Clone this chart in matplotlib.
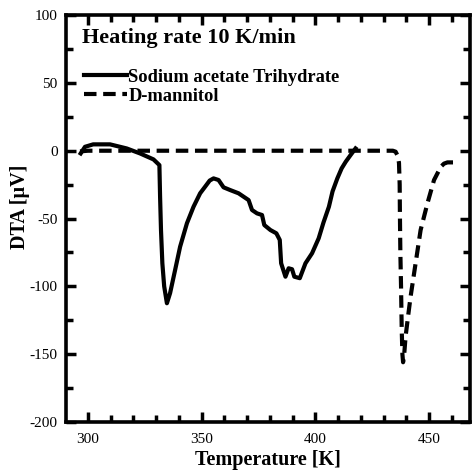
import matplotlib
matplotlib.use("Agg")
import matplotlib.pyplot as plt
from matplotlib.ticker import MultipleLocator

plt.rcParams['font.family'] = ['Liberation Serif', 'DejaVu Serif']
plt.rcParams['axes.unicode_minus'] = False

# Sodium acetate trihydrate (solid)
sodium_T = [296.8, 298.7, 302.3, 309.7, 317.0, 322.9, 328.8, 331.4, 331.7, 332.1,
            332.7, 333.5, 334.7, 336.1, 338.3, 340.5, 343.5, 346.4, 349.3, 351.5,
            353.5, 355.2, 357.4, 359.6, 362.5, 366.2, 370.6, 372.1, 374.3, 376.5,
            377.5, 380.2, 382.8, 384.3, 384.9, 386.8, 388.2, 389.7, 390.7, 393.1,
            395.6, 398.5, 401.4, 403.5, 405.9, 407.5, 409.6, 411.5, 413.3, 415.5,
            417.6]
sodium_D = [-2.0, 2.9, 4.7, 4.7, 1.7, -2.0, -6.4, -10.6, -33.9, -58.5,
            -83.0, -100.0, -112.5, -105.0, -88.0, -70.8, -53.5, -41.3, -31.4, -26.5,
            -22.0, -20.4, -21.6, -27.0, -29.0, -31.4, -36.4, -43.7, -46.2, -47.4,
            -54.8, -58.5, -60.9, -65.8, -83.0, -92.9, -86.7, -87.4, -92.9, -94.0,
            -83.0, -75.6, -64.6, -53.0, -41.3, -30.0, -20.4, -13.0, -8.1, -3.0,
            1.7]

# D-mannitol (dashed)
mann_T = [296.5, 300, 320, 350, 380, 400, 420, 434.0, 435.2, 436.2,
          436.7, 437.0, 437.1, 437.3, 437.6, 437.9, 438.2, 438.5, 439.0, 439.6,
          440.7, 441.8, 444.0, 446.2, 449.2, 452.1, 455.1, 456.5, 458.0, 462.4]
mann_D = [-0.5, 0, 0, 0, 0, 0, 0, 0, -0.7, -4,
          -9, -25, -46, -75, -100, -132, -150, -156, -150, -137,
          -122, -107.6, -83, -58.5, -38.8, -21.6, -11.8, -9.5, -8.6, -8.6]

fig = plt.figure(figsize=(4.74, 4.73), dpi=100)
ax = fig.add_axes([0.139, 0.108, 0.853, 0.860])

ax.plot(sodium_T, sodium_D, color='black', lw=3, solid_joinstyle='round',
        label='Sodium acetate Trihydrate')
ax.plot(mann_T, mann_D, color='black', lw=3, linestyle=(0, (3, 1.6)),
        label='D-mannitol')

ax.set_xlim(290.3, 468)
ax.set_ylim(-200, 100)
ax.xaxis.set_major_locator(MultipleLocator(50))
ax.xaxis.set_minor_locator(MultipleLocator(10))
ax.yaxis.set_major_locator(MultipleLocator(50))
ax.yaxis.set_minor_locator(MultipleLocator(25))
ax.tick_params(which='both', direction='in', top=True, right=True,
               width=2.5, labelsize=11)
ax.tick_params(axis='x', pad=8)
ax.tick_params(axis='y', pad=6)
ax.tick_params(which='major', length=7)
ax.tick_params(which='minor', length=5)
for s in ax.spines.values():
    s.set_linewidth(2.6)

ax.set_xlabel('Temperature [K]', fontsize=14.5, fontweight='bold', labelpad=3)
ax.set_ylabel('DTA [\u00b5V]', fontsize=14.5, fontweight='bold')
ax.yaxis.set_label_coords(-0.088, 0.528)

ax.text(0.04, 0.931, 'Heating rate 10 K/min', transform=ax.transAxes,
        fontsize=16, fontweight='bold', va='baseline', ha='left')

ax.legend(loc='upper left', bbox_to_anchor=(0.045, 0.868), frameon=False,
          prop={'weight': 'bold', 'size': 13.3}, handlelength=2.3,
          handletextpad=0.1, labelspacing=0.1, borderpad=0, borderaxespad=0)

fig.savefig('out.png', dpi=100)
